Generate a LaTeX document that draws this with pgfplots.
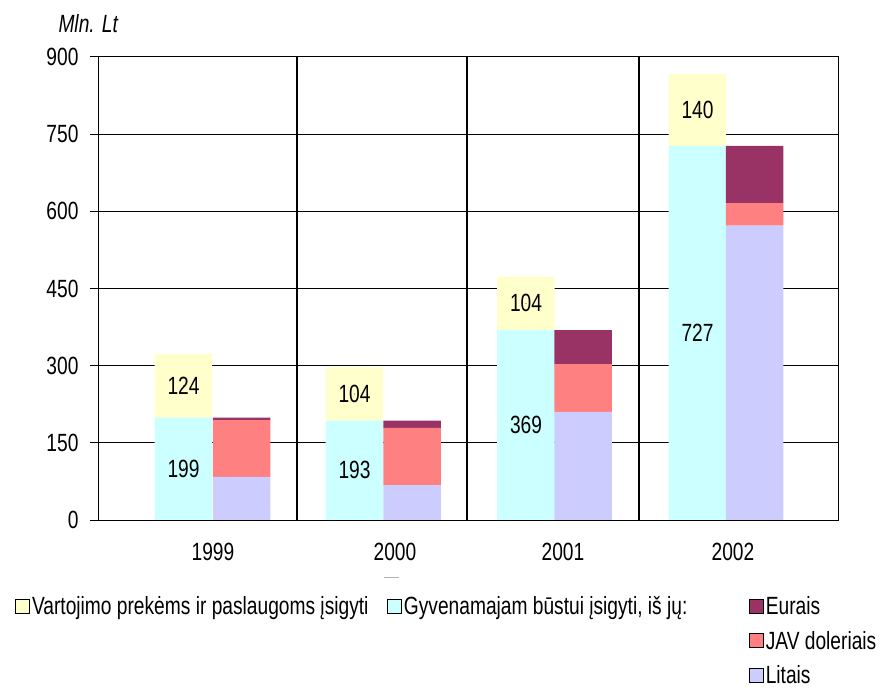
\documentclass[border=0pt]{standalone}
\usepackage{fontspec}
\setmainfont{Liberation Sans}[FakeStretch=0.77]
\usepackage{pgfplots}
\pgfplotsset{compat=1.18}
\definecolor{yel}{HTML}{FFFFCC}
\definecolor{cya}{HTML}{CCFFFF}
\definecolor{lav}{HTML}{CCCCFF}
\definecolor{sal}{HTML}{FF8080}
\definecolor{mar}{HTML}{993366}
\pgfplotsset{
  geom/.style={scale only axis, width=740bp, height=463bp,
    xmin=99, xmax=839, ymin=0, ymax=900},
}
\newcommand\sq[1]{\addlegendimage{legend image code/.code={\draw[fill=#1,draw=black,line width=0.9bp] (0bp,-7bp) rectangle (14bp,7bp);}}}
\begin{document}
\begin{tikzpicture}[font=\fontsize{25}{30}\selectfont]
\begin{axis}[geom,
  /pgf/number format/assume math mode=true,
  ybar stacked, bar width=57.5,
  ytick={0,150,...,900},
  xtick={213,395,563,733}, xticklabels={1999,2000,2001,2002},
  xtick style={draw=none},
  ytick style={black, line width=1bp},
  major tick length=9bp, tick align=outside, ytick pos=left,
  ymajorgrids, major grid style={black, line width=1bp},
  extra x ticks={297,467,639}, extra x tick labels={},
  extra x tick style={grid=major, major grid style={black, line width=1.8bp}},
  axis line style={black, line width=1bp},
  xticklabel style={yshift=-11bp},
  yticklabel style={xshift=-8bp},
  legend columns=3,
  legend style={at={(rel axis cs:-0.1176,-0.156)}, anchor=north west,
    draw=none, fill=none, column sep=0bp, row sep=11bp},
  legend cell align=left,
]
\coordinate (O) at (rel axis cs:0,0);
\addplot[fill=cya, draw=none, forget plot] coordinates {(183.5,199) (354.5,193) (526,369) (697.5,727)};
\addplot[fill=yel, draw=none, forget plot] coordinates {(183.5,124) (354.5,104) (526,104) (697.5,140)};
\sq{yel}\addlegendentry{\makebox[353bp][l]{Vartojimo prekėms ir paslaugoms įsigyti}}
\sq{cya}\addlegendentry{\makebox[343bp][l]{Gyvenamajam būstui įsigyti, iš jų:}}
\sq{mar}\addlegendentry{Eurais}
\addlegendimage{empty legend}\addlegendentry{}
\addlegendimage{empty legend}\addlegendentry{}
\sq{sal}\addlegendentry{JAV doleriais}
\addlegendimage{empty legend}\addlegendentry{}
\addlegendimage{empty legend}\addlegendentry{}
\sq{lav}\addlegendentry{Litais}
\end{axis}
\begin{axis}[geom, hide axis, ybar stacked, bar width=57.5]
\addplot[fill=lav, draw=none] coordinates {(241.5,84) (412,68) (583,210) (754.5,572)};
\addplot[fill=sal, draw=none] coordinates {(241.5,110) (412,111) (583,93) (754.5,44)};
\addplot[fill=mar, draw=none] coordinates {(241.5,5) (412,14) (583,66) (754.5,111)};
\end{axis}
\begin{axis}[geom, hide axis, clip=false]
\addplot[only marks, mark=*, mark size=0.1pt, mark options={draw=none, fill=none},
  nodes near coords, point meta=explicit symbolic, nodes near coords align=center]
  coordinates {(183.5,99.5)[199] (354.5,96.5)[193] (526,184.5)[369] (697.5,363.5)[727]
               (183.5,261)[124] (354.5,245)[104] (526,421)[104] (697.5,797)[140]};
\draw[black, line width=1bp] (rel axis cs:0,0) -- (rel axis cs:1,0);
\end{axis}
\node[anchor=west, font=\fontsize{25}{30}\selectfont\itshape] at ([shift={(-44bp,496bp)}]O) {Mln. Lt};
\draw[gray!60, line width=1bp] ([shift={(285bp,-57bp)}]O) -- ++(15bp,0);
\pgfresetboundingbox
\path[use as bounding box] ([shift={(-99bp,-168bp)}]O) rectangle ([shift={(785bp,520bp)}]O);
\end{tikzpicture}
\end{document}
